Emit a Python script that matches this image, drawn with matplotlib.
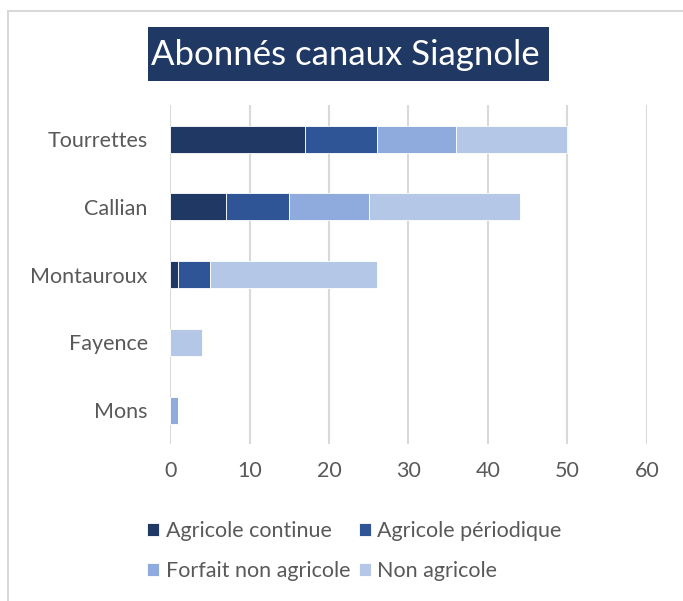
import matplotlib.pyplot as plt
import numpy as np
from matplotlib.patches import Rectangle

plt.rcParams['font.family'] = ['Lato', 'DejaVu Sans']

communes = ['Tourrettes', 'Callian', 'Montauroux', 'Fayence', 'Mons']
agri_continue = [17, 7, 1, 0, 0]
agri_periodique = [9, 8, 4, 0, 0]
forfait_non_agri = [10, 10, 0, 0, 1]
non_agricole = [14, 19, 21, 4, 0]

series = [
    ('Agricole continue', agri_continue, '#203864'),
    ('Agricole périodique', agri_periodique, '#2F5597'),
    ('Forfait non agricole', forfait_non_agri, '#8FAADC'),
    ('Non agricole', non_agricole, '#B4C7E7'),
]

fig = plt.figure(figsize=(6.83, 6.01), dpi=100)
ax = fig.add_axes([0.249, 0.261, 0.698, 0.564])

y = np.arange(len(communes))
left = np.zeros(len(communes))
bars = {}
for name, vals, col in series:
    vals = np.array(vals, dtype=float)
    bars[name] = ax.barh(y, vals, left=left, height=0.4, color=col,
                         edgecolor='white', linewidth=0.6, label=name, zorder=3)
    left += vals

ax.set_xlim(0, 60)
ax.set_ylim(len(communes) - 0.5, -0.5)
ax.set_xticks(np.arange(0, 61, 10))
ax.set_yticks(y)
ax.set_yticklabels(communes)
ax.grid(axis='x', color='#D9D9D9', linewidth=1.5, zorder=0)
ax.tick_params(length=0, labelsize=15.5, colors='#595959')
ax.tick_params(axis='y', pad=16)
ax.tick_params(axis='x', pad=12)
for s in ax.spines.values():
    s.set_visible(False)

# title in a dark box
fig.patches.append(Rectangle((148 / 683, 1 - 81 / 601), 401 / 683, 54 / 601,
                             transform=fig.transFigure, facecolor='#203864',
                             edgecolor='none'))
fig.text(345 / 683, 1 - 55 / 601, 'Abonnés canaux Siagnole', ha='center',
         va='center', fontsize=25, color='white')

order = ['Agricole continue', 'Forfait non agricole', 'Agricole périodique', 'Non agricole']
leg = fig.legend([bars[k] for k in order], order, ncol=2, loc='center',
                 bbox_to_anchor=(0.519, 0.083), frameon=False, fontsize=15.5,
                 handlelength=0.55, handleheight=0.55, handletextpad=0.3,
                 columnspacing=0.4, labelspacing=0.9)
for t in leg.get_texts():
    t.set_color('#595959')

# outer chart border
fig.patches.append(Rectangle((8 / 683, -0.1), 1.2, 1 - 11 / 601 + 0.1,
                             transform=fig.transFigure, fill=False,
                             edgecolor='#D9D9D9', linewidth=1.5))

fig.savefig('out.png', dpi=100)
